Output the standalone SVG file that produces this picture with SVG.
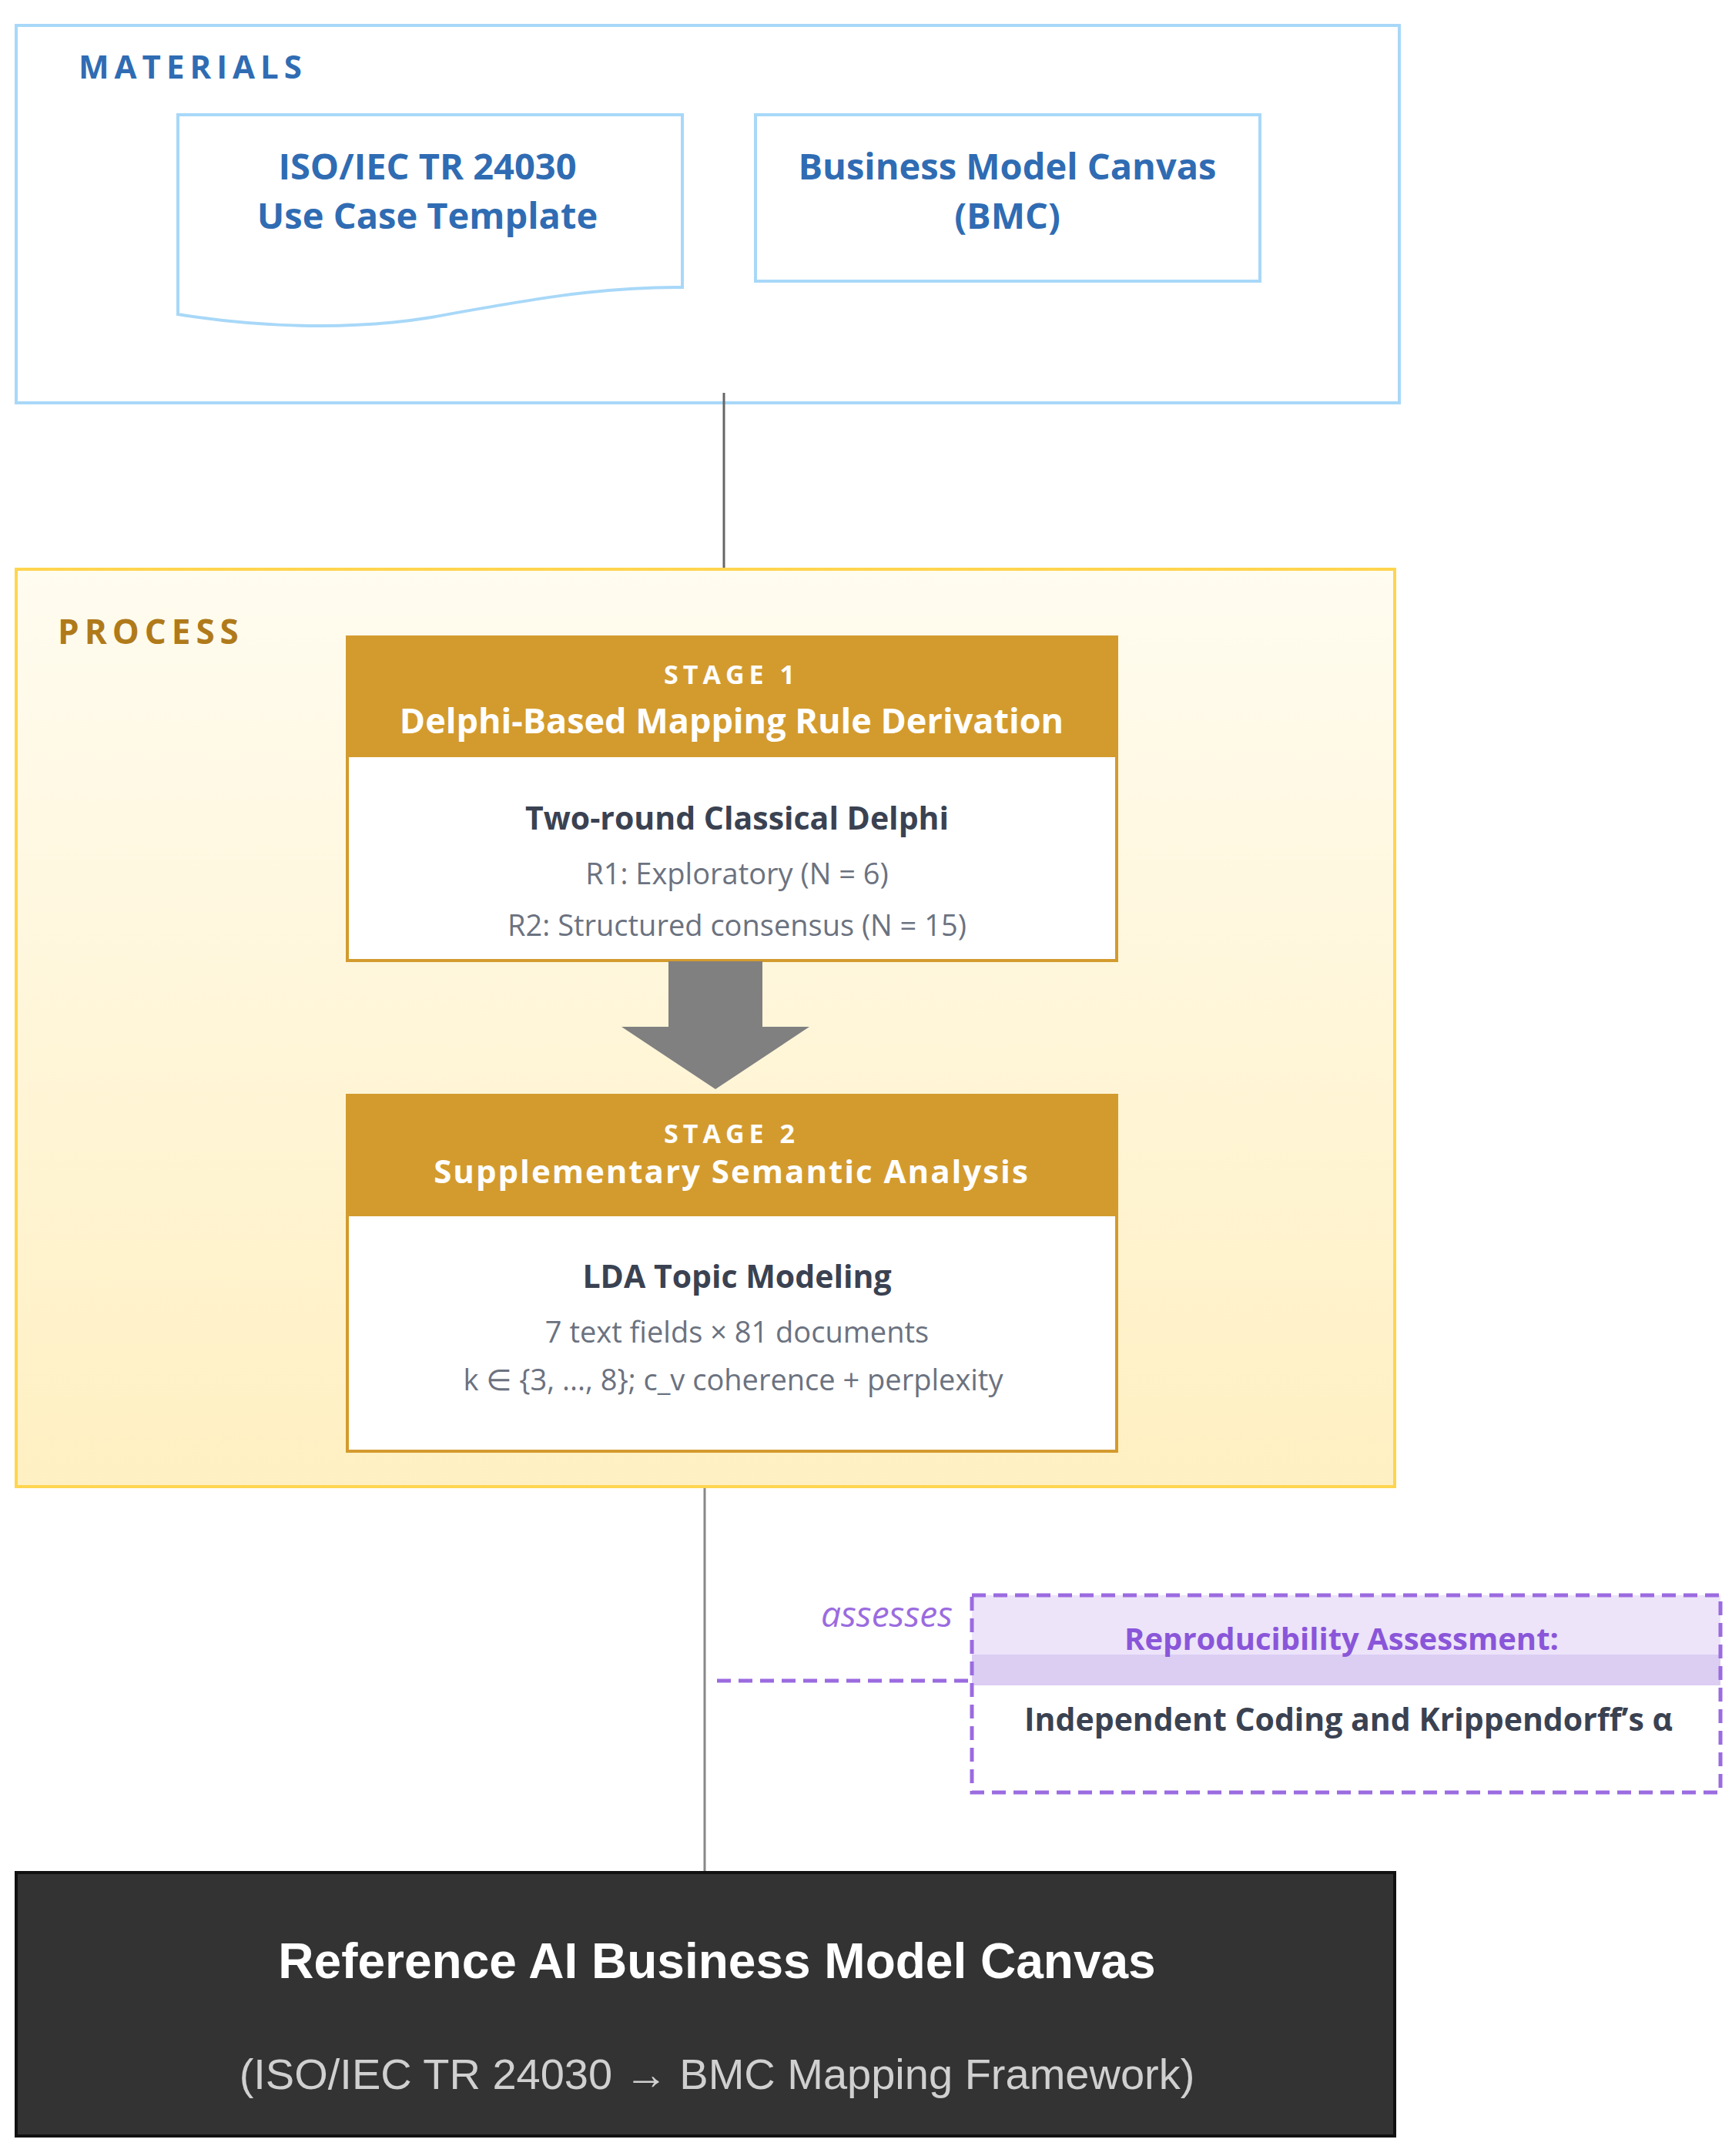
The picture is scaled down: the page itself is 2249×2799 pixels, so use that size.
<svg xmlns="http://www.w3.org/2000/svg" width="2249" height="2799" viewBox="0 0 2249 2799">
<defs>
<linearGradient id="pg" x1="0" y1="0" x2="0" y2="1"><stop offset="0" stop-color="#FFFCF0"/><stop offset="1" stop-color="#FFF0C2"/></linearGradient>
<style>
.os{font-family:"Open Sans","Noto Sans","DejaVu Sans",sans-serif}
.mat{fill:#2F6CB3;font-weight:700;font-size:47px;text-anchor:middle}
.hd{fill:#fff;font-weight:700;text-anchor:middle}
.bt{fill:#3A4252;font-weight:700;font-size:41px;text-anchor:middle}
.st{fill:#6B7280;font-size:38px;text-anchor:middle}
</style>
</defs>
<rect width="2249" height="2799" fill="#fff"/>
<g id="materials">
<rect x="21" y="33" width="1796" height="490" fill="#fff" stroke="#A8D8F8" stroke-width="4"/>
<text x="102" y="102" class="os" font-size="42" font-weight="700" fill="#2F6CB3" letter-spacing="7">MATERIALS</text>
</g>
<g id="iso">
<path d="M231 149 H886 V373 C780 372 680 390 560 412 C450 430 330 424 231 408 Z" fill="#fff" stroke="#A8D8F8" stroke-width="4"/>
<text x="555" y="233" class="os mat">ISO/IEC TR 24030</text>
<text x="555" y="297" class="os mat">Use Case Template</text>
</g>
<g id="bmc">
<rect x="981" y="149" width="655" height="216" fill="#fff" stroke="#A8D8F8" stroke-width="4"/>
<text x="1308" y="233" class="os mat">Business Model Canvas</text>
<text x="1308" y="297" class="os mat">(BMC)</text>
</g>
<g id="connectors">
<line x1="940" y1="510" x2="940" y2="737" stroke="#666" stroke-width="3"/>
<line x1="915" y1="1930" x2="915" y2="2431" stroke="#888" stroke-width="3"/>
<line x1="931" y1="2182" x2="1901" y2="2182" stroke="#9B6BE0" stroke-width="5" stroke-dasharray="18 10"/>
<text x="1237" y="2112" class="os" font-size="46" font-style="italic" fill="#9B6BE0" text-anchor="end">assesses</text>
</g>
<g id="process">
<rect x="21" y="739" width="1790" height="1191" fill="url(#pg)" stroke="#FFD54F" stroke-width="4"/>
<text x="75" y="836" class="os" font-size="44" font-weight="700" fill="#B07A1A" letter-spacing="7">PROCESS</text>
</g>
<g id="stage1">
<rect x="451" y="827" width="999" height="420" fill="#fff" stroke="#D39B2E" stroke-width="4"/>
<rect x="449" y="825" width="1003" height="158" fill="#D39B2E"/>
<text x="950" y="888" class="os hd" font-size="34" letter-spacing="6">STAGE 1</text>
<text x="950" y="952" class="os hd" font-size="45">Delphi-Based Mapping Rule Derivation</text>
<text x="957" y="1077" class="os bt">Two-round Classical Delphi</text>
<text x="957" y="1148" class="os st">R1: Exploratory (N = 6)</text>
<text x="957" y="1215" class="os st">R2: Structured consensus (N = 15)</text>
</g>
<g id="arrow">
<polygon points="868,1248 990,1248 990,1333 1051,1333 929,1414 807,1333 868,1333" fill="#808080"/>
</g>
<g id="stage2">
<rect x="451" y="1422" width="999" height="462" fill="#fff" stroke="#D39B2E" stroke-width="4"/>
<rect x="449" y="1420" width="1003" height="159" fill="#D39B2E"/>
<text x="950" y="1484" class="os hd" font-size="34" letter-spacing="6">STAGE 2</text>
<text x="950" y="1536" class="os hd" font-size="42" letter-spacing="2">Supplementary Semantic Analysis</text>
<text x="957" y="1672" class="os bt">LDA Topic Modeling</text>
<text x="957" y="1743" class="os st">7 text fields × 81 documents</text>
<text x="952" y="1805" class="os st" font-size="30">k ∈ {3, ..., 8}; c_v coherence + perplexity</text>
</g>
<g id="repro">
<rect x="1262" y="2071" width="972" height="77" fill="#EDE4FA"/>
<rect x="1262" y="2148" width="972" height="40" fill="#DCCDF3"/>
<rect x="1262" y="2071" width="972" height="256" fill="none" stroke="#9B6BE0" stroke-width="5" stroke-dasharray="18 10"/>
<text x="1742" y="2142" class="os" font-size="40" font-weight="700" fill="#8A56D9" text-anchor="middle">Reproducibility Assessment:</text>
<text x="1751" y="2247" class="os bt" font-size="40">Independent Coding and Krippendorff’s α</text>
</g>
<g id="output">
<rect x="21" y="2431" width="1790" height="342" fill="#333" stroke="#111" stroke-width="4"/>
<text x="931" y="2568" font-family="Liberation Sans,Arial,sans-serif" font-size="64" font-weight="700" fill="#fff" text-anchor="middle">Reference AI Business Model Canvas</text>
<text x="931" y="2712" font-family="Liberation Sans,Arial,sans-serif" font-size="56" fill="#D0D0D0" text-anchor="middle">(ISO/IEC TR 24030 → BMC Mapping Framework)</text>
</g>
</svg>
